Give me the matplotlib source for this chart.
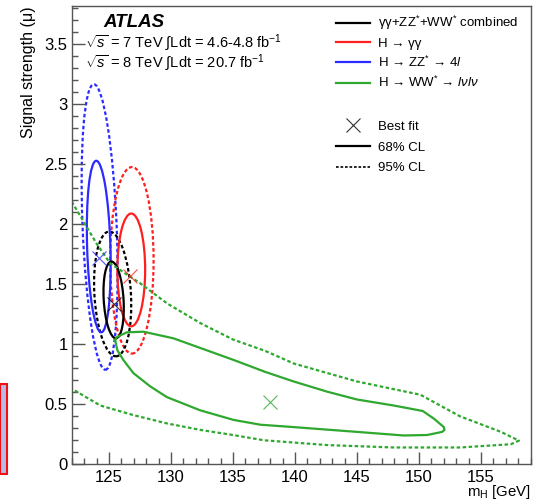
import matplotlib
matplotlib.use("Agg")
import matplotlib.pyplot as plt
from matplotlib.patches import Ellipse, Rectangle
from matplotlib.lines import Line2D
from matplotlib.transforms import Affine2D
import numpy as np

plt.rcParams['font.family'] = ['Liberation Sans', 'DejaVu Sans']
plt.rcParams['mathtext.fontset'] = 'custom'
plt.rcParams['mathtext.rm'] = 'Liberation Sans'
plt.rcParams['mathtext.it'] = 'Liberation Sans:italic'
plt.rcParams['mathtext.bf'] = 'Liberation Sans:bold'

# ellipse contours: centre mass, centre mu, full width (GeV), full height (mu), shear (GeV per unit mu)
zz_68 = (124.18, 1.815, 1.88, 1.43, -0.28)
zz_95 = (124.25, 1.978, 2.75, 2.38, -0.39)
gg_68 = (126.80, 1.62, 2.24, 0.94, 0.0)
gg_95 = (126.85, 1.70, 3.50, 1.555, 0.0)
comb_68 = (125.38, 1.37, 1.60, 0.64, -0.55)
comb_95 = (125.30, 1.42, 2.95, 1.04, -0.51)

# H -> WW contours
ww_68_m = [125.50, 125.63, 126.44, 127.78, 130.2, 132.35, 135.04, 137.6, 139.9, 142.6,
           145.0, 147.95, 150.3, 151.2, 152.0, 152.05, 151.86, 150.65, 148.76, 145.0,
           139.88, 137.2, 135.04, 132.35, 129.67, 128.32, 126.97, 126.16, 125.68, 125.50]
ww_68_mu = [1.036, 1.06, 1.10, 1.105, 1.05, 0.97, 0.87, 0.77, 0.69, 0.605,
            0.54, 0.49, 0.444, 0.38, 0.31, 0.286, 0.27, 0.244, 0.24, 0.27,
            0.31, 0.33, 0.37, 0.45, 0.56, 0.65, 0.76, 0.87, 0.95, 1.036]
ww_95_m = [122.0, 124.0, 125.1, 127.5, 129.7, 132.4, 135.0, 137.6, 139.9, 145.0,
           150.1, 153.3, 156.6, 158.05, 157.4, 153.3, 147.95, 142.6, 137.5, 135.0,
           132.4, 129.7, 126.97, 124.3, 122.0]
ww_95_mu = [2.19, 1.84, 1.675, 1.51, 1.34, 1.175, 1.04, 0.945, 0.84, 0.69,
            0.58, 0.40, 0.27, 0.197, 0.167, 0.14, 0.14, 0.16, 0.20, 0.244,
            0.286, 0.34, 0.41, 0.49, 0.63]

# best fit points
best_m = [125.41, 126.7, 124.23, 138.0]
best_mu = [1.34, 1.57, 1.72, 0.52]

c_comb = 'black'
c_gg = '#ff1f1f'
c_zz = '#2b2bff'
c_ww = '#2ea82e'
dots = (0, (1.6, 1.1))

fig = plt.figure(figsize=(5.34, 5.01), dpi=100)
ax = fig.add_axes([0.1343, 0.0733, 0.8595, 0.9147])


def draw_ellipse(p, color, ls):
    cx, cy, w, h, k = p
    e = Ellipse((cx, cy), w, h, fill=False, edgecolor=color, lw=1.6, linestyle=ls)
    shear = Affine2D().translate(-cx, -cy).skew(np.arctan(k), 0).translate(cx, cy)
    e.set_transform(shear + ax.transData)
    ax.add_patch(e)


draw_ellipse(zz_95, c_zz, dots)
draw_ellipse(gg_95, c_gg, dots)
draw_ellipse(comb_95, c_comb, dots)
ax.plot(ww_95_m, ww_95_mu, color=c_ww, lw=1.6, linestyle=dots)
draw_ellipse(zz_68, c_zz, '-')
draw_ellipse(gg_68, c_gg, '-')
draw_ellipse(comb_68, c_comb, '-')
ax.plot(ww_68_m, ww_68_mu, color=c_ww, lw=1.6)

for m, mu, c in zip(best_m, best_mu, [c_comb, c_gg, c_zz, c_ww]):
    ax.plot(m, mu, marker='x', color=c, markersize=10, mew=0.8, alpha=0.8, linestyle='none')

ax.set_xlim(122, 159)
ax.set_ylim(0, 3.82)
ax.set_xticks([125, 130, 135, 140, 145, 150, 155])
ax.set_xticks(np.arange(122, 160, 1), minor=True)
ax.set_yticks([0, 0.5, 1, 1.5, 2, 2.5, 3, 3.5])
ax.set_yticklabels(['0', '0.5', '1', '1.5', '2', '2.5', '3', '3.5'])
ax.set_yticks(np.arange(0, 3.81, 0.1), minor=True)
ax.tick_params(which='both', direction='in', top=False, right=False, labelsize=12, color='#555555')
ax.tick_params(which='major', length=9, width=1)
ax.tick_params(which='minor', length=4.5, width=1)
ax.tick_params(axis='x', pad=4)
ax.tick_params(axis='y', pad=3)
for s in ax.spines.values():
    s.set_color('#555555')
    s.set_linewidth(1)

ax.set_ylabel('Signal strength (μ)', loc='top', fontsize=11.5, labelpad=6)
ax.set_xlabel('m$_{\\mathrm{H}}$ [GeV]', loc='right', fontsize=10.8, labelpad=-1.0)

ax.text(0.068, 0.965, 'ATLAS', transform=ax.transAxes, fontsize=13.5,
        fontweight='bold', fontstyle='italic', va='center')
ax.text(0.03, 0.92, r'$\sqrt{s}$ = 7 TeV $\int$Ldt = 4.6-4.8 fb$^{-1}$',
        transform=ax.transAxes, fontsize=10.5, va='center')
ax.text(0.03, 0.876, r'$\sqrt{s}$ = 8 TeV $\int$Ldt = 20.7 fb$^{-1}$',
        transform=ax.transAxes, fontsize=10.5, va='center')

# legend of channels
chan_handles = [Line2D([], [], color=c, lw=1.6) for c in [c_comb, c_gg, c_zz, c_ww]]
chan_labels = [
    'γγ+ZZ$^{*}$+WW$^{*}$ combined',
    'H → γγ',
    'H → ZZ$^{*}$ → 4$l$',
    r'H → WW$^{*}$ → $l\nu l\nu$',
]
leg1 = ax.legend(chan_handles, chan_labels, loc='upper left', bbox_to_anchor=(0.575, 0.982),
                 frameon=False, fontsize=9.5, handlelength=2.6, handletextpad=0.6,
                 labelspacing=0.38, borderpad=0, borderaxespad=0)
ax.add_artist(leg1)

# legend of markers / line styles
style_handles = [
    Line2D([], [], color='#333333', marker='x', markersize=10, mew=0.8, linestyle='none'),
    Line2D([], [], color='black', lw=1.6),
    Line2D([], [], color='black', lw=1.2, linestyle=(0, (1.6, 1.1))),
]
style_labels = ['Best fit', '68% CL', '95% CL']
ax.legend(style_handles, style_labels, loc='upper left', bbox_to_anchor=(0.575, 0.750),
          frameon=False, fontsize=9.5, handlelength=2.6, handletextpad=0.6,
          labelspacing=0.65, borderpad=0, borderaxespad=0)

fig.patches.append(Rectangle((0, 27), 7, 90, transform=None, facecolor='#b7bbe6',
                             edgecolor='#ee1111', lw=1.5))

fig.savefig('out.png', dpi=100)
